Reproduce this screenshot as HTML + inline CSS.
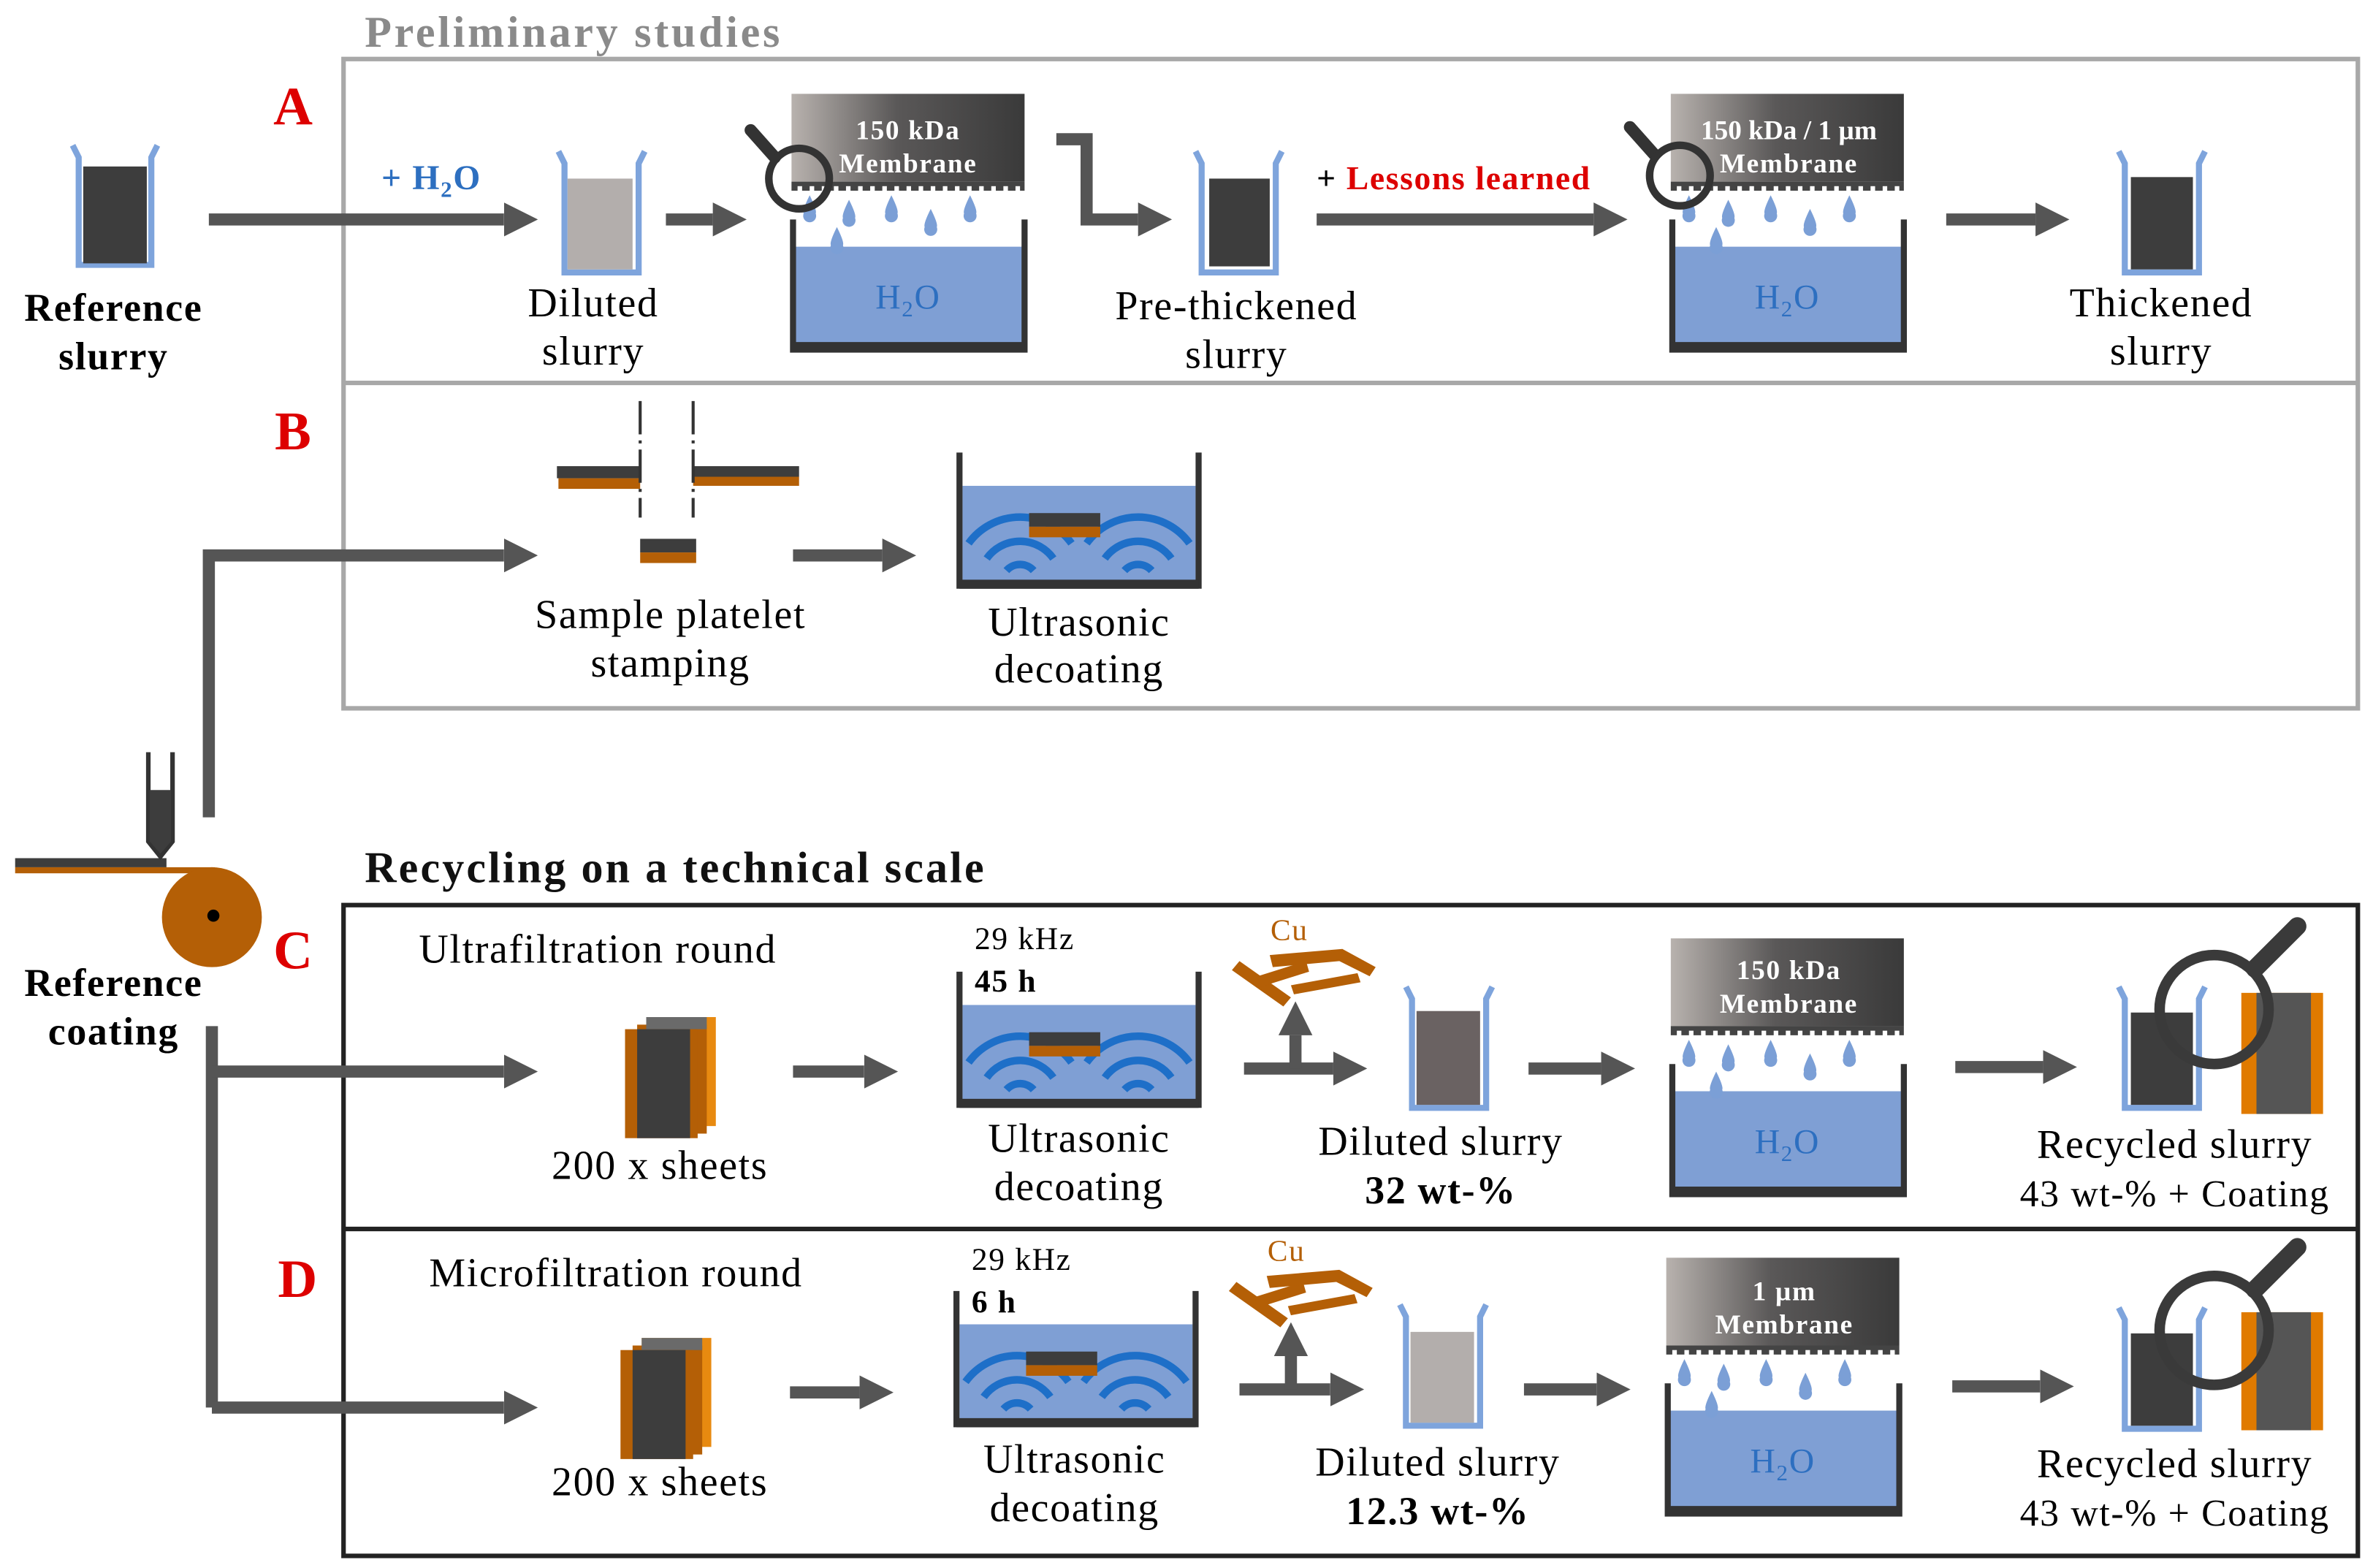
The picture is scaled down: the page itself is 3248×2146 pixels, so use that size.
<!DOCTYPE html>
<html><head><meta charset="utf-8">
<style>
html,body{margin:0;padding:0;background:#fff;}
svg{display:block;}
text{font-family:"Liberation Serif",serif;letter-spacing:0.8px;}
</style></head>
<body>
<svg width="3248" height="2146" viewBox="0 0 1568 1036" preserveAspectRatio="none" xmlns="http://www.w3.org/2000/svg">
<defs>
  <linearGradient id="mg" x1="0" x2="1" y1="0" y2="0">
    <stop offset="0" stop-color="#b8b2ae"/>
    <stop offset="0.45" stop-color="#5a5858"/>
    <stop offset="1" stop-color="#3a3a3a"/>
  </linearGradient>
  <marker id="ah" viewBox="0 0 10 10" refX="0" refY="5" markerWidth="2.8" markerHeight="3.6" orient="auto" markerUnits="strokeWidth">
    <path d="M0,0 L10,5 L0,10z" fill="#555"/>
  </marker>
  <g id="drop"><path d="M0,-8 Q5,2 4,4 A4.3,4.3 0 1 1 -4,4 Q-5,2 0,-8z" fill="#7b9fd6"/></g>
  <g id="mem">
    <rect x="0" y="0" width="154" height="58" fill="url(#mg)"/>
    <path d="M0,58 h154 v6 h-154z" fill="#444"/>
    <g fill="#fff">
      <rect x="4" y="61" width="3" height="4"/><rect x="12" y="61" width="3" height="4"/><rect x="20" y="61" width="3" height="4"/><rect x="28" y="61" width="3" height="4"/><rect x="36" y="61" width="3" height="4"/><rect x="44" y="61" width="3" height="4"/><rect x="52" y="61" width="3" height="4"/><rect x="60" y="61" width="3" height="4"/><rect x="68" y="61" width="3" height="4"/><rect x="76" y="61" width="3" height="4"/><rect x="84" y="61" width="3" height="4"/><rect x="92" y="61" width="3" height="4"/><rect x="100" y="61" width="3" height="4"/><rect x="108" y="61" width="3" height="4"/><rect x="116" y="61" width="3" height="4"/><rect x="124" y="61" width="3" height="4"/><rect x="132" y="61" width="3" height="4"/><rect x="140" y="61" width="3" height="4"/><rect x="148" y="61" width="3" height="4"/>
    </g>
    <rect x="2" y="101" width="151" height="66" fill="#7f9fd4"/>
    <path d="M1,83 V169 H154 V83" fill="none" stroke="#333" stroke-width="4"/>
    <path d="M1,167 H154" stroke="#333" stroke-width="6"/>
    <use href="#drop" x="12" y="75"/><use href="#drop" x="38" y="78"/><use href="#drop" x="66" y="75"/><use href="#drop" x="92" y="84"/><use href="#drop" x="118" y="75"/>
    <use href="#drop" x="30" y="96"/>
  </g>
  <g id="us">
    <rect x="2" y="22" width="154" height="64" fill="#7f9fd4"/>
    <path d="M0,0 V88 H158 V0" fill="none" stroke="#333" stroke-width="4"/>
    <path d="M0,87 H158" stroke="#333" stroke-width="6"/>
    <g fill="none" stroke="#1e6fc8" stroke-width="5">
      <path d="M6,60 A42,42 0 0 1 74,60"/><path d="M84,60 A42,42 0 0 1 152,60"/>
      <path d="M18,70 A27,27 0 0 1 62,70"/><path d="M96,70 A27,27 0 0 1 140,70"/>
      <path d="M31,78 A12,12 0 0 1 49,78"/><path d="M109,78 A12,12 0 0 1 127,78"/>
    </g>
    <rect x="46" y="40" width="47" height="9" fill="#3d3d3d"/>
    <rect x="46" y="49" width="47" height="7" fill="#b45f06"/>
  </g>
  <g id="sheets">
    <rect x="14" y="0" width="46" height="72" fill="#e88a10"/>
    <rect x="8" y="5" width="46" height="72" fill="#b45f06"/>
    <rect x="14" y="0" width="40" height="8" fill="#6a6a6a"/>
    <rect x="0" y="8" width="48" height="72" fill="#b45f06"/>
    <rect x="8" y="8" width="35" height="72" fill="#3d3d3d"/>
  </g>
  <g id="cu" fill="#b45f06">
    <path d="M2,8 L36,32 L31,38 L-3,14z"/>
    <path d="M14,18 L46,8 L48,15 L16,25z"/>
    <path d="M22,4 L70,0 L92,12 L88,18 L68,8 L24,12z"/>
    <path d="M36,24 L80,16 L82,22 L38,30z"/>
  </g>
</defs>

<!-- Titles -->
<text x="241" y="31" font-size="29" font-weight="bold" fill="#8a8a8a" style="letter-spacing:1.8px">Preliminary studies</text>
<text x="241" y="583" font-size="29" font-weight="bold" fill="#111" style="letter-spacing:1.5px">Recycling on a technical scale</text>

<!-- Box A/B -->
<rect x="227" y="39" width="1331" height="429" fill="none" stroke="#a8a8a8" stroke-width="3"/>
<line x1="227" y1="253" x2="1558" y2="253" stroke="#a8a8a8" stroke-width="3"/>
<!-- Box C/D -->
<rect x="227" y="598" width="1331" height="430" fill="none" stroke="#222" stroke-width="3"/>
<line x1="227" y1="812" x2="1558" y2="812" stroke="#222" stroke-width="3"/>

<g font-size="36" font-weight="bold" fill="#d00" text-anchor="middle">
<text x="194" y="82">A</text><text x="194" y="297">B</text><text x="194" y="640">C</text><text x="197" y="857">D</text>
</g>

<!-- Row A -->
<path d="M48,96 l4,8 V175 H100 V104 l4,-8" fill="none" stroke="#7ea4dc" stroke-width="4"/>
<rect x="55" y="110" width="42" height="64" fill="#3d3d3d"/>
<text x="75" y="212" font-size="26" font-weight="bold" text-anchor="middle">Reference</text>
<text x="75" y="244" font-size="26" font-weight="bold" text-anchor="middle">slurry</text>

<path d="M138,145 H333" stroke="#555" stroke-width="8" marker-end="url(#ah)"/>
<text x="252" y="125" font-size="23" font-weight="bold" fill="#2d6fc0">+ H<tspan font-size="15" dy="5">2</tspan><tspan dy="-5">O</tspan></text>

<path d="M369,100 l4,8 V180 H422 V108 l4,-8" fill="none" stroke="#7ea4dc" stroke-width="4"/>
<rect x="375" y="118" width="43" height="60" fill="#b3aeac"/>
<text x="392" y="209" font-size="27" text-anchor="middle">Diluted</text>
<text x="392" y="241" font-size="27" text-anchor="middle">slurry</text>

<path d="M440,145 H471" stroke="#555" stroke-width="8" marker-end="url(#ah)"/>

<use href="#mem" x="523" y="62"/>
<text x="600" y="92" font-size="18" font-weight="bold" fill="#fff" text-anchor="middle">150 kDa</text>
<text x="600" y="114" font-size="18" font-weight="bold" fill="#fff" text-anchor="middle">Membrane</text>
<text x="600" y="204" font-size="23" fill="#2d6fc0" text-anchor="middle">H<tspan font-size="15" dy="5">2</tspan><tspan dy="-5">O</tspan></text>
<line x1="496" y1="86" x2="512" y2="104" stroke="#333" stroke-width="8" stroke-linecap="round"/>
<circle cx="528" cy="118" r="20" fill="none" stroke="#333" stroke-width="5"/>

<path d="M698,92 H718 V145 H752" fill="none" stroke="#555" stroke-width="8" marker-end="url(#ah)"/>

<path d="M790,100 l4,8 V180 H843 V108 l4,-8" fill="none" stroke="#7ea4dc" stroke-width="4"/>
<rect x="799" y="118" width="40" height="58" fill="#3d3d3d"/>
<text x="817" y="211" font-size="27" text-anchor="middle">Pre-thickened</text>
<text x="817" y="243" font-size="27" text-anchor="middle">slurry</text>

<text x="870" y="125" font-size="22" font-weight="bold">+ <tspan fill="#d00">Lessons learned</tspan></text>
<path d="M870,145 H1053" stroke="#555" stroke-width="8" marker-end="url(#ah)"/>

<use href="#mem" x="1104" y="62"/>
<text x="1182" y="92" font-size="18" font-weight="bold" fill="#fff" text-anchor="middle" style="letter-spacing:0">150 kDa / 1 µm</text>
<text x="1182" y="114" font-size="18" font-weight="bold" fill="#fff" text-anchor="middle">Membrane</text>
<text x="1181" y="204" font-size="23" fill="#2d6fc0" text-anchor="middle">H<tspan font-size="15" dy="5">2</tspan><tspan dy="-5">O</tspan></text>
<line x1="1077" y1="84" x2="1093" y2="102" stroke="#333" stroke-width="8" stroke-linecap="round"/>
<circle cx="1110" cy="116" r="20" fill="none" stroke="#333" stroke-width="5"/>

<path d="M1286,145 H1345" stroke="#555" stroke-width="8" marker-end="url(#ah)"/>

<path d="M1400,100 l4,8 V180 H1453 V108 l4,-8" fill="none" stroke="#7ea4dc" stroke-width="4"/>
<rect x="1408" y="117" width="41" height="61" fill="#3d3d3d"/>
<text x="1428" y="209" font-size="27" text-anchor="middle">Thickened</text>
<text x="1428" y="241" font-size="27" text-anchor="middle">slurry</text>

<!-- Row B -->
<path d="M138,540 V367 H333" fill="none" stroke="#555" stroke-width="8" marker-end="url(#ah)"/>
<rect x="368" y="308" width="55" height="8" fill="#3d3d3d"/><rect x="369" y="316" width="54" height="7" fill="#b45f06"/>
<rect x="458" y="308" width="70" height="7" fill="#3d3d3d"/><rect x="458" y="315" width="70" height="6" fill="#b45f06"/>
<line x1="423" y1="265" x2="423" y2="342" stroke="#333" stroke-width="2" stroke-dasharray="22,4,2,4"/>
<line x1="458" y1="265" x2="458" y2="342" stroke="#333" stroke-width="2" stroke-dasharray="22,4,2,4"/>
<rect x="423" y="356" width="37" height="9" fill="#3d3d3d"/><rect x="423" y="365" width="37" height="7" fill="#b45f06"/>
<text x="443" y="415" font-size="27" text-anchor="middle">Sample platelet</text>
<text x="443" y="447" font-size="27" text-anchor="middle">stamping</text>
<path d="M524,367 H583" stroke="#555" stroke-width="8" marker-end="url(#ah)"/>
<use href="#us" x="634" y="299"/>
<text x="713" y="420" font-size="27" text-anchor="middle">Ultrasonic</text>
<text x="713" y="451" font-size="27" text-anchor="middle">decoating</text>

<!-- Coating machine -->
<rect x="10" y="567" width="100" height="6" fill="#3d3d3d"/>
<rect x="10" y="573" width="132" height="4" fill="#b45f06"/>
<path d="M98,497 V556 L106,566 L114,556 V497" fill="none" stroke="#333" stroke-width="3"/>
<path d="M99,522 H113 V556 L106,564 L99,556z" fill="#3d3d3d"/>
<ellipse cx="140" cy="606" rx="33" ry="33" fill="#b45f06"/>
<circle cx="141" cy="605" r="4" fill="#000"/>
<text x="75" y="658" font-size="26" font-weight="bold" text-anchor="middle">Reference</text>
<text x="75" y="690" font-size="26" font-weight="bold" text-anchor="middle">coating</text>

<path d="M140,678 V930" fill="none" stroke="#555" stroke-width="8"/>
<path d="M140,708 H333" stroke="#555" stroke-width="8" marker-end="url(#ah)"/>
<path d="M140,930 H333" stroke="#555" stroke-width="8" marker-end="url(#ah)"/>

<!-- Row C -->
<text x="395" y="636" font-size="27" text-anchor="middle">Ultrafiltration round</text>
<use href="#sheets" x="413" y="672"/>
<text x="436" y="779" font-size="27" text-anchor="middle">200 x sheets</text>
<path d="M524,708 H571" stroke="#555" stroke-width="8" marker-end="url(#ah)"/>
<use href="#us" x="634" y="642"/>
<text x="644" y="627" font-size="21">29 kHz</text>
<text x="644" y="655" font-size="21" font-weight="bold">45 h</text>
<text x="713" y="761" font-size="27" text-anchor="middle">Ultrasonic</text>
<text x="713" y="793" font-size="27" text-anchor="middle">decoating</text>
<text x="852" y="621" font-size="20" fill="#b45f06" text-anchor="middle">Cu</text>
<use href="#cu" x="817" y="627"/>
<path d="M822,706 H881" stroke="#555" stroke-width="8" marker-end="url(#ah)"/>
<path d="M856,706 V684" stroke="#555" stroke-width="8" marker-end="url(#ah)"/>
<path d="M929,652 l4,8 V732 H982 V660 l4,-8" fill="none" stroke="#7ea4dc" stroke-width="4"/>
<rect x="936" y="668" width="42" height="62" fill="#6a6262"/>
<text x="952" y="763" font-size="27" text-anchor="middle">Diluted slurry</text>
<text x="952" y="795" font-size="26" font-weight="bold" text-anchor="middle">32 wt-%</text>
<path d="M1010,706 H1058" stroke="#555" stroke-width="8" marker-end="url(#ah)"/>
<use href="#mem" x="1104" y="620"/>
<text x="1182" y="647" font-size="18" font-weight="bold" fill="#fff" text-anchor="middle">150 kDa</text>
<text x="1182" y="669" font-size="18" font-weight="bold" fill="#fff" text-anchor="middle">Membrane</text>
<text x="1181" y="762" font-size="23" fill="#2d6fc0" text-anchor="middle">H<tspan font-size="15" dy="5">2</tspan><tspan dy="-5">O</tspan></text>
<path d="M1292,705 H1350" stroke="#555" stroke-width="8" marker-end="url(#ah)"/>
<path d="M1400,652 l4,8 V732 H1453 V660 l4,-8" fill="none" stroke="#7ea4dc" stroke-width="4"/>
<rect x="1408" y="669" width="41" height="61" fill="#3d3d3d"/>
<rect x="1481" y="656" width="54" height="80" fill="#e07a00"/>
<rect x="1491" y="656" width="36" height="80" fill="#555"/>
<line x1="1490" y1="640" x2="1518" y2="612" stroke="#3a3a3a" stroke-width="12" stroke-linecap="round"/>
<circle cx="1463" cy="667" r="36" fill="none" stroke="#3a3a3a" stroke-width="7"/>
<text x="1437" y="765" font-size="27" text-anchor="middle">Recycled slurry</text>
<text x="1437" y="797" font-size="25" text-anchor="middle">43 wt-% + Coating</text>

<!-- Row D -->
<text x="407" y="850" font-size="27" text-anchor="middle">Microfiltration round</text>
<use href="#sheets" x="410" y="884"/>
<text x="436" y="988" font-size="27" text-anchor="middle">200 x sheets</text>
<path d="M522,920 H568" stroke="#555" stroke-width="8" marker-end="url(#ah)"/>
<use href="#us" x="632" y="853"/>
<text x="642" y="839" font-size="21">29 kHz</text>
<text x="642" y="867" font-size="21" font-weight="bold">6 h</text>
<text x="710" y="973" font-size="27" text-anchor="middle">Ultrasonic</text>
<text x="710" y="1005" font-size="27" text-anchor="middle">decoating</text>
<text x="850" y="833" font-size="20" fill="#b45f06" text-anchor="middle">Cu</text>
<use href="#cu" x="815" y="839"/>
<path d="M819,918 H879" stroke="#555" stroke-width="8" marker-end="url(#ah)"/>
<path d="M853,918 V896" stroke="#555" stroke-width="8" marker-end="url(#ah)"/>
<path d="M925,862 l4,8 V942 H978 V870 l4,-8" fill="none" stroke="#7ea4dc" stroke-width="4"/>
<rect x="932" y="880" width="42" height="60" fill="#b3aeac"/>
<text x="950" y="975" font-size="27" text-anchor="middle">Diluted slurry</text>
<text x="950" y="1007" font-size="26" font-weight="bold" text-anchor="middle">12.3 wt-%</text>
<path d="M1007,918 H1055" stroke="#555" stroke-width="8" marker-end="url(#ah)"/>
<use href="#mem" x="1101" y="831"/>
<text x="1179" y="859" font-size="18" font-weight="bold" fill="#fff" text-anchor="middle">1 µm</text>
<text x="1179" y="881" font-size="18" font-weight="bold" fill="#fff" text-anchor="middle">Membrane</text>
<text x="1178" y="973" font-size="23" fill="#2d6fc0" text-anchor="middle">H<tspan font-size="15" dy="5">2</tspan><tspan dy="-5">O</tspan></text>
<path d="M1290,916 H1348" stroke="#555" stroke-width="8" marker-end="url(#ah)"/>
<path d="M1400,864 l4,8 V944 H1453 V872 l4,-8" fill="none" stroke="#7ea4dc" stroke-width="4"/>
<rect x="1408" y="881" width="41" height="61" fill="#3d3d3d"/>
<rect x="1481" y="867" width="54" height="78" fill="#e07a00"/>
<rect x="1491" y="867" width="36" height="78" fill="#555"/>
<line x1="1490" y1="852" x2="1518" y2="824" stroke="#3a3a3a" stroke-width="12" stroke-linecap="round"/>
<circle cx="1463" cy="879" r="36" fill="none" stroke="#3a3a3a" stroke-width="7"/>
<text x="1437" y="976" font-size="27" text-anchor="middle">Recycled slurry</text>
<text x="1437" y="1008" font-size="25" text-anchor="middle">43 wt-% + Coating</text>
</svg>
</body></html>
